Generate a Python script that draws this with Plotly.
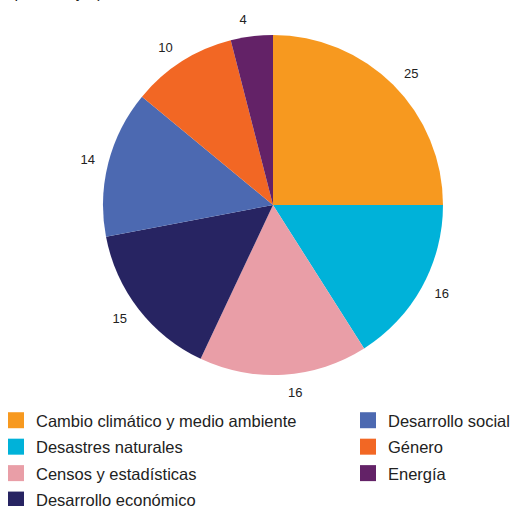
import plotly.graph_objects as go

labels = ["Cambio climático y medio ambiente", "Desastres naturales", "Censos y estadísticas",
          "Desarrollo económico", "Desarrollo social", "Género", "Energía"]
values = [25, 16, 16, 15, 14, 10, 4]
colors = ["#F7991F", "#00B2D9", "#E99EA7", "#272462", "#4C69B1", "#F26724", "#632267"]
legend_of = ["legend", "legend", "legend", "legend", "legend2", "legend2", "legend2"]

W, H = 512, 506
fig = go.Figure()
# visible pie
fig.add_trace(go.Pie(
    labels=labels, values=values, sort=False, direction="clockwise", rotation=0,
    marker=dict(colors=colors, line=dict(width=0)),
    textinfo="none", showlegend=False, automargin=False, hoverinfo="label+value",
    domain=dict(x=[103/W, 443/W], y=[1-375/H, 1-35/H]),
))
# transparent, slightly larger pie carrying the outside value labels
fig.add_trace(go.Pie(
    labels=labels, values=values, sort=False, direction="clockwise", rotation=0,
    marker=dict(colors=["rgba(0,0,0,0)"]*len(values), line=dict(width=0)),
    textinfo="value", textposition="outside",
    textfont=dict(family="Liberation Sans, Arial", size=13, color="#222222"),
    showlegend=False, automargin=False, hoverinfo="skip",
    domain=dict(x=[93/W, 453/W], y=[1-385/H, 1-25/H]),
))
for lab, col, lg in zip(labels, colors, legend_of):
    fig.add_trace(go.Scatter(
        x=[None], y=[None], mode="markers", name=lab, legend=lg, legendgroup=lab,
        marker=dict(symbol="square", size=16, color=col, line=dict(width=0)),
    ))

legfont = dict(family="Liberation Sans, Arial", size=16.5, color="#222222")
fig.update_layout(
    width=W, height=H,
    margin=dict(l=0, r=0, t=0, b=0, autoexpand=False),
    paper_bgcolor="white", plot_bgcolor="white",
    xaxis=dict(visible=False), yaxis=dict(visible=False),
    legend=dict(x=-4/W, y=1-403/H, xanchor="left", yanchor="top", orientation="v",
                font=legfont, tracegroupgap=2, itemsizing="trace", bgcolor="rgba(0,0,0,0)"),
    legend2=dict(x=348/W, y=1-403/H, xanchor="left", yanchor="top", orientation="v",
                 font=legfont, tracegroupgap=2, itemsizing="trace", bgcolor="rgba(0,0,0,0)"),
    annotations=[dict(text="(en porcentajes)", xref="paper", yref="paper", x=105/W, y=1,
                      xanchor="right", yanchor="bottom", yshift=-3, showarrow=False,
                      font=dict(family="Liberation Sans, Arial", size=16, color="#222222"))],
)
fig.write_html("out.html", config={"displayModeBar": False},
               post_script="document.body.style.margin='0';")
